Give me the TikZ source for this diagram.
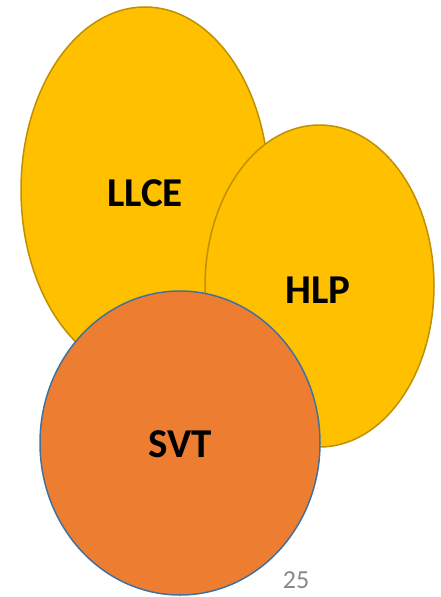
\documentclass[tikz,border=0pt]{standalone}
\usepackage{fontspec}
\setmainfont{Carlito}
\definecolor{gold}{HTML}{FFC000}
\definecolor{goldline}{HTML}{BF9000}
\definecolor{orng}{HTML}{ED7D31}
\definecolor{blueline}{HTML}{41719C}
\definecolor{numgray}{HTML}{898989}
\begin{document}
\begin{tikzpicture}[x=1pt,y=-1pt,
  yellowblob/.style={fill=gold,draw=goldline,line width=1.5pt},
  orangeblob/.style={fill=orng,draw=blueline,line width=1.5pt},
  lbl/.style={font=\fontsize{41}{45}\selectfont\bfseries,text=black}]
\useasboundingbox (0,0) rectangle (441,597);
\filldraw[yellowblob] (145,190) ellipse [x radius=124, y radius=183];
\filldraw[yellowblob] (319.5,286) ellipse [x radius=114.5, y radius=161];
\filldraw[orangeblob] (180,443) ellipse [x radius=140, y radius=152];
\node[lbl] (llce) at (145,193) {LLCE};
\node[lbl] (hlp) at (318,290) {HLP};
\node[lbl] (svt) at (180,444) {SVT};
\node[font=\fontsize{26}{30}\selectfont,text=numgray] (pg) at (296,580) {25};
\end{tikzpicture}
\end{document}
